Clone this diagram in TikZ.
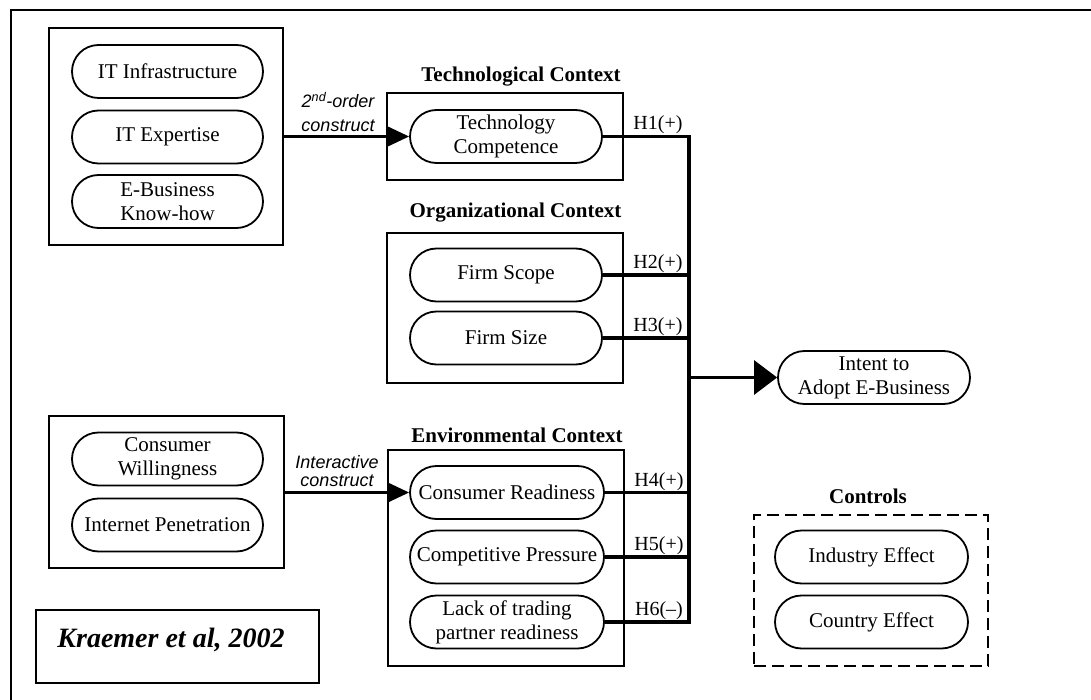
\documentclass[tikz,border=0pt]{standalone}
\usepackage{fontspec}
\setmainfont{Liberation Serif}
\newfontfamily\lsans{Liberation Sans}
\usetikzlibrary{arrows.meta,shapes.misc}
\begin{document}
\begin{tikzpicture}[x=1pt,y=-1pt,
  pill/.style={draw,line width=1.8pt,rounded rectangle,minimum height=53pt,inner sep=0pt,
    align=center,font=\fontsize{21}{24}\selectfont},
  grp/.style={draw,line width=1.8pt},
  ttl/.style={font=\fontsize{21}{24}\selectfont\bfseries},
  hlab/.style={font=\fontsize{20}{22}\selectfont},
  clab/.style={font=\fontsize{18}{22}\selectfont\lsans\itshape},
  bus/.style={line width=3.6pt},
  feed/.style={line width=2.8pt,-{Triangle[length=22pt,width=20pt]}},
  mainarr/.style={line width=3pt,-{Triangle[length=23pt,width=34pt]}}]
\useasboundingbox (0,0) rectangle (1091,700);
% outer frame
\draw[line width=2.6pt] (1091,10) -- (11,10) -- (11,700);

% group 1
\node[grp,minimum width=234pt,minimum height=217pt,inner sep=0pt] (g1) at (166,136.5) {};
\node[pill,minimum width=191pt] (iti) at (167.5,71.5) {IT Infrastructure};
\node[pill,minimum width=191pt] (ite) at (167.5,137) {IT Expertise};
\node[pill,minimum width=191pt] (ebk) at (167.5,201.5) {E-Business\\Know-how};

% technological context
\node[grp,minimum width=236pt,minimum height=87pt,inner sep=0pt] (tbox) at (505,136.5) {};
\node[ttl] (tt) at (521,77) {Technological Context};
\node[pill,minimum width=192pt] (tc) at (506,136.5) {Technology\\Competence};

% organizational context
\node[grp,minimum width=236pt,minimum height=150pt,inner sep=0pt] (obox) at (505,308) {};
\node[ttl] (ot) at (515.5,213) {Organizational Context};
\node[pill,minimum width=192pt] (fs) at (506,275) {Firm Scope};
\node[pill,minimum width=192pt] (fz) at (506,338) {Firm Size};

% group 2
\node[grp,minimum width=235pt,minimum height=152pt,inner sep=0pt] (g2) at (166.5,492) {};
\node[pill,minimum width=191pt] (cw) at (167.5,459) {Consumer\\Willingness};
\node[pill,minimum width=191pt] (ip) at (167.5,525) {Internet Penetration};

% environmental context
\node[grp,minimum width=236pt,minimum height=216pt,inner sep=0pt] (ebox) at (506,558) {};
\node[ttl] (et) at (517,435) {Environmental Context};
\node[pill,minimum width=194pt] (cr) at (507,492.5) {Consumer Readiness};
\node[pill,minimum width=194pt] (cp) at (507,557) {Competitive Pressure};
\node[pill,minimum width=194pt] (lt) at (507,622) {Lack of trading\\partner readiness};

% controls
\node[draw,dash pattern=on 12pt off 6pt,line width=2.6pt,minimum width=234pt,minimum height=151pt,inner sep=0pt] (cbox) at (871,590.5) {};
\node[ttl] (ct) at (868,496) {Controls};
\node[pill,minimum width=193pt] (ie) at (871.5,557) {Industry Effect};
\node[pill,minimum width=193pt] (ce) at (871.5,622) {Country Effect};

% outcome
\node[pill,minimum width=192pt] (ia) at (874,377.5) {Intent to\\Adopt E-Business};

% citation
\node[draw,line width=1.4pt,minimum width=283pt,minimum height=73pt,inner sep=0pt] (kr) at (177.5,646.5) {};
\node[font=\fontsize{28}{30}\selectfont\bfseries\itshape] (krt) at (171,640) {Kraemer et al, 2002};

% feeds
\draw[feed] (g1.east |- tc.west) -- (tc.west);
\node[clab] (l1a) at (338,100) {2\textsuperscript{nd}-order};
\node[clab] (l1b) at (338,126) {construct};
\draw[feed] (g2.east |- cr.west) -- (cr.west);
\node[clab] (l2a) at (337,462) {Interactive};
\node[clab] (l2b) at (337,481) {construct};

% bus
\coordinate (bx) at (689,0);
\draw[bus] (tc.east) -- (tc.east -| bx) -- (lt.east -| bx) -- (lt.east);
\draw[bus] (fs.east) -- (fs.east -| bx);
\draw[bus] (fz.east) -- (fz.east -| bx);
\draw[bus] (cr.east) -- (cr.east -| bx);
\draw[bus] (cp.east) -- (cp.east -| bx);
\draw[mainarr] (ia.west -| bx) -- (ia.west);

\node[hlab] (h1) at (658,125) {H1(+)};
\node[hlab] (h2) at (658,264) {H2(+)};
\node[hlab] (h3) at (658,327) {H3(+)};
\node[hlab] (h4) at (659,481.5) {H4(+)};
\node[hlab] (h5) at (659,546) {H5(+)};
\node[hlab] (h6) at (659,611) {H6(\textendash)};
\end{tikzpicture}
\end{document}
